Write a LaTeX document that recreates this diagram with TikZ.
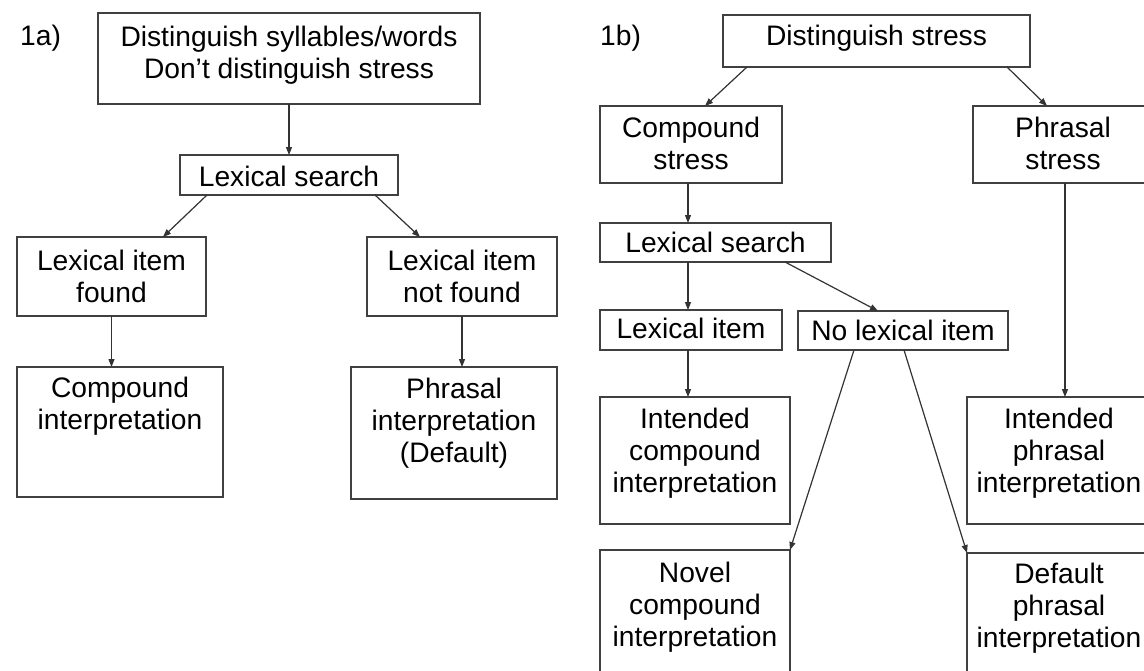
\documentclass[tikz,border=0pt]{standalone}
\usepackage{fontspec}
\setmainfont{Liberation Sans}
\usetikzlibrary{arrows.meta}
\newcommand{\bt}[4]{\parbox[c][#2pt][t]{#1pt}{\centering\rule{0pt}{#3pt}#4\par}}
\begin{document}
\begin{tikzpicture}[x=1pt,y=-1pt,
  box/.style={draw=black!75, line width=1.3pt, inner sep=0pt, outer sep=0pt, anchor=north west, font=\fontsize{28.2}{32}\selectfont},
  conn/.style={draw=black!80, line width=1.2pt, -{Triangle[length=8pt,width=6pt]}},
  lbl/.style={anchor=base west, inner sep=0pt, font=\fontsize{28.2}{32}\selectfont}]
\useasboundingbox (0,0) rectangle (1144,670);
\fill[white] (0,0) rectangle (1144,670);
\clip (0,0) rectangle (1144,670);

% labels
\node[lbl] (la) at (20,45) {1a)};
\node[lbl] (lb) at (600,45) {1b)};

% panel 1a
\node[box] (top) at (98,13) {\bt{382}{91}{33}{Distinguish syllables/words\\Don’t distinguish stress}};
\node[box] (lsA) at (180,155) {\bt{218}{40}{31}{Lexical search}};
\node[box] (lfA) at (17,237) {\bt{189}{79}{33}{Lexical item\\found}};
\node[box] (nfA) at (367,237) {\bt{190}{79}{33}{Lexical item\\not found}};
\node[box] (ciA) at (17,367) {\bt{206}{130}{30}{Compound\\interpretation}};
\node[box] (piA) at (351,367) {\bt{206}{132}{31}{Phrasal\\interpretation\\(Default)}};

% panel 1b
\node[box] (ds) at (723,15) {\bt{307}{52}{30}{Distinguish stress}};
\node[box] (cs) at (600,106) {\bt{182}{77}{31}{Compound\\stress}};
\node[box] (ps) at (973,106) {\bt{180}{77}{31}{Phrasal\\stress}};
\node[box] (ls2) at (600,223) {\bt{231}{39}{29}{Lexical search}};
\node[box] (li) at (600,310) {\bt{182}{40}{28}{Lexical item}};
\node[box] (nli) at (798,311) {\bt{210}{39}{29}{No lexical item}};
\node[box] (icp) at (600,397) {\bt{190}{127}{31}{Intended\\compound\\interpretation}};
\node[box] (iph) at (967,397) {\bt{184}{127}{31}{Intended\\phrasal\\interpretation}};
\node[box] (nov) at (600,550) {\bt{190}{127}{32}{Novel\\compound\\interpretation}};
\node[box] (dph) at (967,553) {\bt{184}{127}{30}{Default\\phrasal\\interpretation}};

% connectors 1a
\draw[conn] (top.south) -- (lsA.north);
\draw[conn] ([xshift=27pt]lsA.south west) -- ([xshift=146pt]lfA.north west);
\draw[conn] ([xshift=-23pt]lsA.south east) -- ([xshift=53pt]nfA.north west);
\draw[conn] (lfA.south) -- (lfA.south |- ciA.north);
\draw[conn] (nfA.south) -- (nfA.south |- piA.north);

% connectors 1b
\draw[conn] ([xshift=24pt]ds.south west) -- ([xshift=105pt]cs.north west);
\draw[conn] ([xshift=-23pt]ds.south east) -- ([xshift=74pt]ps.north west);
\draw[conn] ([xshift=88pt]cs.south west) -- ([xshift=88pt]cs.south west |- ls2.north);
\draw[conn] ([xshift=88pt]ls2.south west) -- ([xshift=88pt]li.north west);
\draw[conn] ([xshift=185pt]ls2.south west) -- ([xshift=80pt]nli.north west);
\draw[conn] ([xshift=88pt]li.south west) -- ([xshift=88pt]icp.north west);
\draw[conn] ([xshift=92pt]ps.south west) -- ([xshift=92pt]ps.south west |- iph.north);
\draw[conn] ([xshift=56pt]nli.south west) -- (nov.north east);
\draw[conn] ([xshift=106pt]nli.south west) -- (dph.north west);
\end{tikzpicture}
\end{document}
